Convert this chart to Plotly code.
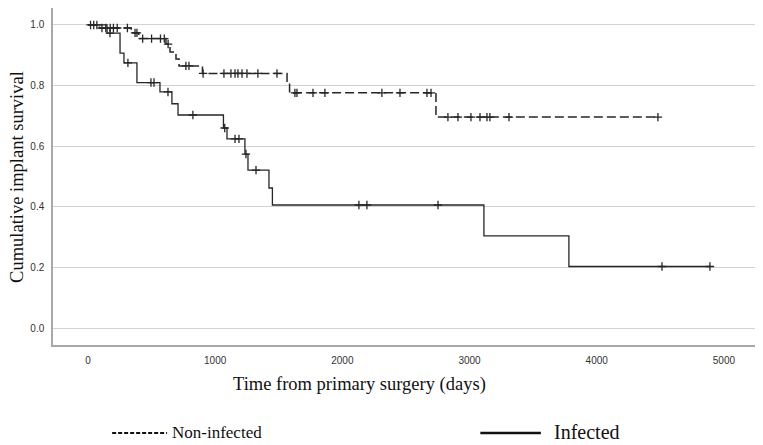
import numpy as np
import plotly.graph_objects as go

# Kaplan-Meier estimates
inf_event_t = [0, 150, 252, 283, 385, 566, 660, 708, 1065, 1093, 1234, 1258, 1423, 1450, 3113, 3781]
inf_surv = [1.0, 0.973, 0.907, 0.875, 0.810, 0.779, 0.740, 0.703, 0.660, 0.624, 0.574, 0.521, 0.462, 0.406, 0.304, 0.203]
inf_censor_t = [173, 314, 495, 519, 629, 825, 1075, 1156, 1187, 1242, 1321, 2130, 2193, 2752, 4513, 4890]

non_event_t = [0, 90, 340, 400, 613, 645, 692, 716, 900, 1565, 1585, 2736]
non_surv = [1.0, 0.990, 0.974, 0.955, 0.937, 0.911, 0.888, 0.865, 0.840, 0.808, 0.776, 0.696]
non_censor_t = [20, 45, 70, 110, 140, 175, 200, 230, 310, 370, 385, 430, 500, 570, 600, 630,
                770, 794, 905, 1069, 1124, 1156, 1179, 1211, 1250, 1336, 1486, 1627, 1643,
                1769, 1863, 2311, 2453, 2665, 2697, 2830, 2909, 3011, 3082, 3137, 3160, 3310, 4481]

y_ticks = [0.0, 0.2, 0.4, 0.6, 0.8, 1.0]
x_ticks = [0, 1000, 2000, 3000, 4000, 5000]

INK = "#262626"


def surv_at(event_t, surv, t):
    idx = np.searchsorted(event_t, t, side="right") - 1
    return [surv[i] for i in idx]


fig = go.Figure()

for ev, sv, cens, dash, w in [
    (non_event_t, non_surv, non_censor_t, "9px,4px", 1.5),
    (inf_event_t, inf_surv, inf_censor_t, "solid", 1.3),
]:
    xs = ev + [max(cens)]
    ys = sv + [sv[-1]]
    fig.add_trace(go.Scatter(x=xs, y=ys, mode="lines", line_shape="hv",
                             line=dict(color=INK, width=w, dash=dash),
                             showlegend=False, hoverinfo="skip"))
    fig.add_trace(go.Scatter(x=cens, y=surv_at(ev, sv, cens), mode="markers",
                             marker=dict(symbol="cross-thin", size=6,
                                         line=dict(color=INK, width=1.3)),
                             showlegend=False, hoverinfo="skip"))

serif = "Liberation Serif"

# page body has an 8px margin, so the figure is a bit smaller and shifted up/left
fig.update_layout(
    width=755, height=437,
    margin=dict(l=45, r=6, t=0, b=100),
    paper_bgcolor="white", plot_bgcolor="white",
    font=dict(family="Liberation Sans", size=10, color="#333"),
    xaxis=dict(range=[-275, 5260], tickvals=x_ticks, showgrid=False, zeroline=False,
               showline=True, linecolor="#a8a8a8", linewidth=1.5,
               ticks="outside", ticklen=5, tickcolor="rgba(0,0,0,0)"),
    yaxis=dict(range=[-0.056, 1.056], tickvals=y_ticks, tickformat=".1f",
               showgrid=True, gridcolor="#d2d2d2", gridwidth=1, zeroline=False,
               showline=True, linecolor="#a8a8a8", linewidth=1.5,
               ticks="outside", ticklen=5, tickcolor="rgba(0,0,0,0)"),
    annotations=[
        dict(text="Cumulative implant survival", xref="paper", yref="paper",
             x=-0.052, y=0.5, textangle=-90, showarrow=False,
             xanchor="center", yanchor="middle",
             font=dict(family=serif, size=18.5, color="#111")),
        dict(text="Time from primary surgery (days)", xref="paper", yref="paper",
             x=0.436, y=-0.116, showarrow=False, xanchor="center", yanchor="middle",
             font=dict(family=serif, size=18.5, color="#111")),
        dict(text="Non-infected", xref="paper", yref="paper", x=0.166, y=-0.261,
             xanchor="left", yanchor="middle", showarrow=False,
             font=dict(family=serif, size=17, color="#111")),
        dict(text="Infected", xref="paper", yref="paper", x=0.709, y=-0.258,
             xanchor="left", yanchor="middle", showarrow=False,
             font=dict(family=serif, size=20, color="#111")),
    ],
    shapes=[
        dict(type="line", xref="paper", yref="paper", x0=0.084, x1=0.162, y0=-0.261, y1=-0.261,
             line=dict(color="#111", width=2, dash="4px,2px")),
        dict(type="line", xref="paper", yref="paper", x0=0.607, x1=0.693, y0=-0.261, y1=-0.261,
             line=dict(color="#111", width=2.5)),
    ],
)

fig.write_html("out.html")
